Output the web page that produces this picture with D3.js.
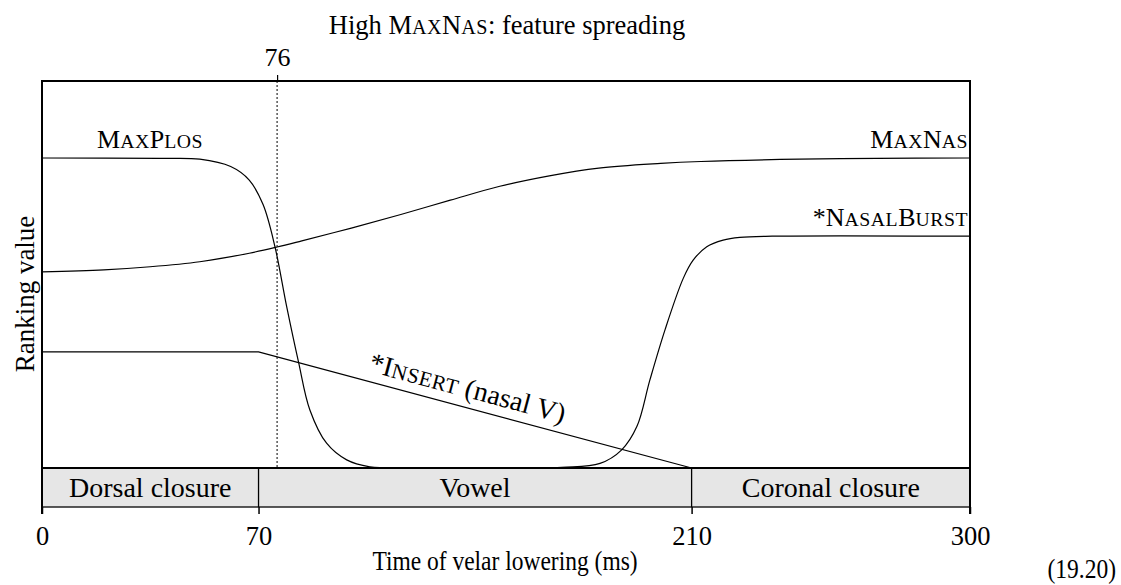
<!DOCTYPE html>
<html>
<head>
<meta charset="utf-8">
<script src="https://cdn.jsdelivr.net/npm/d3@7"></script>
<style>
  html, body { margin: 0; padding: 0; background: #fff; }
  svg text { font-family: "Liberation Serif", "Times New Roman", serif; fill: #000; }
</style>
</head>
<body>
<svg id="chart" width="1121" height="585"></svg>
<script>
// Time (ms) and ranking values for each constraint curve
const plosTimes  = [0, 38, 51, 61, 67, 71.5, 75.3, 79.1, 82.9, 86.6, 92, 98.5, 106, 111, 168, 180.4, 187.4, 192.3, 196.5, 201.4, 207.3, 210.5, 214.9, 220.2, 225.6, 236, 300];
const plosValues = [8.01, 8.0, 7.98, 7.79, 7.44, 6.8, 5.72, 4.17, 2.75, 1.5, 0.64, 0.21, 0.03, 0.01, 0.02, 0.12, 0.47, 1.07, 2.27, 3.57, 4.9, 5.37, 5.72, 5.89, 5.96, 5.99, 5.99];

const nasTimes  = [0, 20, 35, 51, 67, 76, 84, 100, 116, 132, 148, 164, 180, 200, 213, 245, 270, 300];
const nasValues = [5.07, 5.12, 5.2, 5.33, 5.55, 5.71, 5.87, 6.2, 6.55, 6.92, 7.28, 7.55, 7.75, 7.87, 7.92, 7.98, 8.0, 8.01];

const insertTimes  = [0, 70, 210];
const insertValues = [3, 3, 0];

// Articulatory phases along the time axis
const phaseNames  = ["Dorsal closure", "Vowel", "Coronal closure"];
const phaseStarts = [0, 70, 210];
const phaseEnds   = [70, 210, 300];

const timeTicks = [0, 70, 210, 300];
const markerTime = [76];

const svg = d3.select("#chart");
const plotLeft = 42, plotRight = 970, plotTop = 81, bandTop = 468, bandBottom = 507;

const x = d3.scaleLinear().domain([0, 300]).range([plotLeft, plotRight]);
const y = d3.scaleLinear().domain([0, 10]).range([bandTop, plotTop]);

// Phase band
const band = svg.append("g");
band.selectAll("rect").data(phaseNames).join("rect")
  .attr("x", (d, i) => x(phaseStarts[i]))
  .attr("y", bandTop)
  .attr("width", (d, i) => x(phaseEnds[i]) - x(phaseStarts[i]))
  .attr("height", bandBottom - bandTop)
  .attr("fill", "#e6e6e6");
band.selectAll("text").data(phaseNames).join("text")
  .attr("x", (d, i) => (x(phaseStarts[i]) + x(phaseEnds[i])) / 2)
  .attr("y", (bandTop + bandBottom) / 2 + 9)
  .attr("text-anchor", "middle")
  .style("font-size", "28px")
  .text(d => d);
band.append("line").attr("x1", plotLeft).attr("x2", plotRight).attr("y1", bandBottom).attr("y2", bandBottom)
  .attr("stroke", "#222").attr("stroke-width", 1.6);
band.selectAll("line.sep").data(phaseStarts.slice(1)).join("line").attr("class", "sep")
  .attr("x1", d => x(d)).attr("x2", d => x(d))
  .attr("y1", bandTop).attr("y2", bandBottom)
  .attr("stroke", "#000").attr("stroke-width", 1.3);

// Bottom time axis
const xAxis = d3.axisBottom(x).tickValues(timeTicks).tickSize(7).tickPadding(12).tickSizeOuter(0);
const gx = svg.append("g").attr("transform", `translate(0,${bandBottom})`).call(xAxis);
gx.select(".domain").remove();
gx.selectAll(".tick line").attr("stroke", "#000").attr("stroke-width", 1.5);
gx.selectAll(".tick text").style("font-size", "26.5px").attr("font-family", null);

// Top marker axis at 76 ms
const mAxis = d3.axisTop(x).tickValues(markerTime).tickSize(6).tickPadding(9).tickSizeOuter(0);
const gm = svg.append("g").attr("transform", `translate(0,${plotTop})`).call(mAxis);
gm.select(".domain").remove();
gm.selectAll(".tick line").attr("stroke", "#000").attr("stroke-width", 1.2);
gm.selectAll(".tick text").style("font-size", "26px").attr("font-family", null);

// Dotted marker line
svg.append("line")
  .attr("x1", x(markerTime[0])).attr("x2", x(markerTime[0]))
  .attr("y1", plotTop).attr("y2", bandTop)
  .attr("stroke", "#000").attr("stroke-width", 1)
  .attr("stroke-dasharray", "2,2");

// Curves
const line = d3.line().x(d => x(d[0])).y(d => y(d[1])).curve(d3.curveCatmullRom.alpha(0.5));
const curves = [
  d3.zip(plosTimes, plosValues),
  d3.zip(nasTimes, nasValues)
];
svg.selectAll("path.curve").data(curves).join("path").attr("class", "curve")
  .attr("d", line).attr("fill", "none").attr("stroke", "#000").attr("stroke-width", 1.2);

svg.append("path")
  .datum(d3.zip(insertTimes, insertValues))
  .attr("d", d3.line().x(d => x(d[0])).y(d => y(d[1])))
  .attr("fill", "none").attr("stroke", "#000").attr("stroke-width", 1.2);

// Plot frame
svg.append("path")
  .attr("d", `M${plotLeft},${bandBottom + 7} V${plotTop} H${plotRight} V${bandBottom + 7}`)
  .attr("fill", "none").attr("stroke", "#000").attr("stroke-width", 2);
svg.append("line").attr("x1", plotLeft).attr("x2", plotRight).attr("y1", bandTop).attr("y2", bandTop)
  .attr("stroke", "#000").attr("stroke-width", 2);

// Labels with small capitals
const SC = 0.76;
function scLabel(g, parts, size) {
  parts.forEach(p => {
    const t = g.append("tspan").style("font-size", (p[1] ? size * SC : size) + "px").text(p[0]);
    if (p[1]) t.style("letter-spacing", "0.5px");
  });
  return g;
}

scLabel(svg.append("text").attr("x", 97).attr("y", y(8.01) - 10).attr("text-anchor", "start"),
  [["M", 0], ["AX", 1], ["P", 0], ["LOS", 1]], 26);
scLabel(svg.append("text").attr("x", plotRight - 2).attr("y", y(8.01) - 10).attr("text-anchor", "end"),
  [["M", 0], ["AX", 1], ["N", 0], ["AS", 1]], 26);
scLabel(svg.append("text").attr("x", plotRight - 2).attr("y", y(5.99) - 10).attr("text-anchor", "end"),
  [["*N", 0], ["ASAL", 1], ["B", 0], ["URST", 1]], 26);

// Insert label follows the slope of its line
const ix0 = x(insertTimes[1]), iy0 = y(insertValues[1]);
const ix1 = x(insertTimes[2]), iy1 = y(insertValues[2]);
const ang = Math.atan2(iy1 - iy0, ix1 - ix0) * 180 / Math.PI;
const lt = 136;
const lx = x(lt), ly = iy0 + (iy1 - iy0) * (x(lt) - ix0) / (ix1 - ix0);
scLabel(svg.append("text")
  .attr("transform", `translate(${lx},${ly}) rotate(${ang}) translate(0,-10)`)
  .attr("text-anchor", "middle"),
  [["*I", 0], ["NSERT", 1], [" (nasal V)", 0]], 28);

// Title
scLabel(svg.append("text").attr("x", 507).attr("y", 34).attr("text-anchor", "middle"),
  [["High M", 0], ["AX", 1], ["N", 0], ["AS", 1], [": feature spreading", 0]], 26.5);

// Axis titles
svg.append("text").attr("transform", `translate(34,${(plotTop + bandBottom) / 2}) rotate(-90)`)
  .attr("text-anchor", "middle").style("font-size", "27px").text("Ranking value");
svg.append("text").attr("transform", "translate(505,570) scale(0.87,1)").attr("text-anchor", "middle")
  .style("font-size", "27px").text("Time of velar lowering (ms)");
svg.append("text").attr("transform", "translate(1116,578) scale(0.87,1)").attr("text-anchor", "end")
  .style("font-size", "27px").text("(19.20)");
</script>
</body>
</html>
